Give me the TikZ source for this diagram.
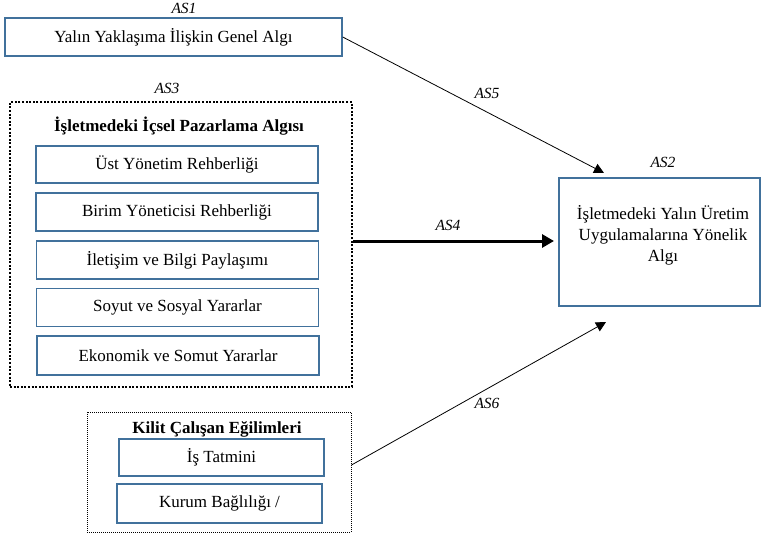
\documentclass[tikz,border=0pt]{standalone}
\usepackage{fontspec}
\setmainfont{Liberation Serif}
\usetikzlibrary{arrows.meta}
\definecolor{boxblue}{HTML}{41719C}
\begin{document}
\begin{tikzpicture}[x=1pt,y=-1pt,
  bluebox/.style={draw=boxblue,line width=1.4pt,fill=white,inner sep=0pt,font=\fontsize{17}{20}\selectfont,align=center},
  lbl/.style={font=\fontsize{15.5}{18}\selectfont\itshape},
  ttl/.style={font=\fontsize{17}{20}\selectfont\bfseries},
  bigdots/.style={draw,line width=2pt,dash pattern=on 2pt off 1.6pt,inner sep=0pt},
  smalldots/.style={draw,line width=1pt,dash pattern=on 1pt off 1pt,inner sep=0pt},
  thinarrow/.style={draw,line width=0.8pt,-{Triangle[length=10pt,width=10pt]}},
  thickarrow/.style={draw,line width=3pt,-{Triangle[length=12pt,width=13pt]}}
]
\useasboundingbox (0,0) rectangle (762,537);
\fill[white] (0,0) rectangle (762,537);

% AS1
\node[lbl] (l1) at (184,8) {AS1};
\node[bluebox,minimum width=337pt,minimum height=38pt] (as1) at (173.5,37) {Yalın Yaklaşıma İlişkin Genel Algı};

% AS3
\node[lbl] (l3) at (167,88) {AS3};
\node[bigdots,minimum width=342pt,minimum height=284pt] (as3) at (181,244.5) {};
\node[ttl] (as3t) at (179,126) {İşletmedeki İçsel Pazarlama Algısı};
\node[bluebox,minimum width=282pt,minimum height=37pt] (b1) at (177,164.5) {Üst Yönetim Rehberliği};
\node[bluebox,minimum width=282pt,minimum height=38pt] (b2) at (177,212) {Birim Yöneticisi Rehberliği};
\node[bluebox,minimum width=282pt,minimum height=38pt] (b3) at (177.5,260) {İletişim ve Bilgi Paylaşımı};
\node[bluebox,minimum width=282pt,minimum height=38pt] (b4) at (177.5,307.5) {Soyut ve Sosyal Yararlar};
\node[bluebox,minimum width=282pt,minimum height=39pt] (b5) at (178,355.5) {Ekonomik ve Somut Yararlar};

% Kilit
\node[smalldots,minimum width=264pt,minimum height=120pt] (kl) at (219,472) {};
\node[ttl] (klt) at (217,429) {Kilit Çalışan Eğilimleri};
\node[bluebox,minimum width=205pt,minimum height=37pt] (k1) at (221.5,457.5) {İş Tatmini};
\node[bluebox,minimum width=205pt,minimum height=39pt] (k2) at (219.5,503.5) {Kurum Bağlılığı /};

% AS2
\node[lbl] (l2) at (663,162) {AS2};
\node[draw=boxblue,line width=2pt,minimum width=201pt,minimum height=128pt,inner sep=0pt] (as2) at (659.5,242) {};
\node[font=\fontsize{17}{21}\selectfont,align=center] (as2t) at (663,235) {İşletmedeki Yalın Üretim\\Uygulamalarına Yönelik\\Algı};

% arrows
\coordinate (t5) at (604,173);
\coordinate (t4) at (554,241);
\coordinate (t6) at (606,322);
\draw[thinarrow] (as1.east) -- (t5);
\draw[thickarrow] (as3.east |- t4) -- (t4);
\draw[thinarrow] ([yshift=7pt]kl.east) -- (t6);
\node[lbl] (l5) at (487,93) {AS5};
\node[lbl] (l4) at (448,225) {AS4};
\node[lbl] (l6) at (487,403) {AS6};
\end{tikzpicture}
\end{document}
